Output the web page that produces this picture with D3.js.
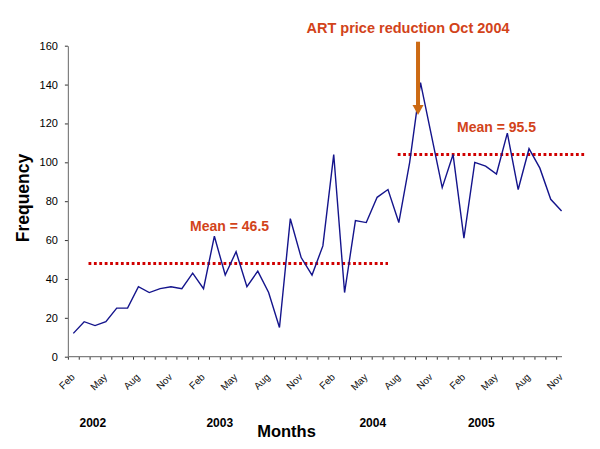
<!DOCTYPE html>
<html>
<head>
<meta charset="utf-8">
<script src="https://cdn.jsdelivr.net/npm/d3@7/dist/d3.min.js"></script>
<style>
  html, body { margin: 0; padding: 0; background: #fff; }
  svg { display: block; font-family: Arial, "Liberation Sans", Helvetica, sans-serif; }
</style>
</head>
<body>
<svg id="chart" width="600" height="449"></svg>
<script>
// ---- data ----
const months = [
  "Feb 2002","Mar 2002","Apr 2002","May 2002","Jun 2002","Jul 2002","Aug 2002","Sep 2002","Oct 2002","Nov 2002","Dec 2002",
  "Jan 2003","Feb 2003","Mar 2003","Apr 2003","May 2003","Jun 2003","Jul 2003","Aug 2003","Sep 2003","Oct 2003","Nov 2003","Dec 2003",
  "Jan 2004","Feb 2004","Mar 2004","Apr 2004","May 2004","Jun 2004","Jul 2004","Aug 2004","Sep 2004","Oct 2004","Nov 2004","Dec 2004",
  "Jan 2005","Feb 2005","Mar 2005","Apr 2005","May 2005","Jun 2005","Jul 2005","Aug 2005","Sep 2005","Oct 2005","Nov 2005"
];
const frequency = [
  12, 18, 16, 18, 25, 25, 36, 33, 35, 36, 35,
  43, 35, 62, 42, 54, 36, 44, 33, 15, 71, 51, 42,
  57, 104, 33, 70, 69, 82, 86, 69, 100, 141, 114, 87,
  104, 61, 100, 98, 94, 115, 86, 107, 97, 81, 75
];
const tickLabelMonths = ["Feb","May","Aug","Nov"];
const yearLabels = ["2002","2003","2004","2005"];
const yTicks = [0, 20, 40, 60, 80, 100, 120, 140, 160];
const meanLabels = ["Mean = 46.5", "Mean = 95.5"];
const meanLineLevels = [48, 104];
const annotationText = "ART price reduction Oct 2004";
const annotationMonth = "Oct 2004";

// ---- layout ----
const W = 600, H = 449;
const plotLeft = 67.9, step = 10.85, plotTop = 45.7, plotBottom = 356.7;
const axisEnd = 562;
const meanSpans = [[1.4, 29.0], [29.9, 47.3]];          // in month-index units
const meanLabelPos = [[14.4, 230.7], [39.0, 131.5]];     // [month-index, baseline y]
const yearLabelPos = [1.8, 13.5, 27.6, 37.6];            // month-index of year label centres

const svg = d3.select("#chart");

const x = d3.scaleLinear()
  .domain([-0.5, months.length - 0.5])
  .range([plotLeft, plotLeft + step * months.length]);
const y = d3.scaleLinear().domain([0, 160]).range([plotBottom, plotTop]);

// y axis
const yAxis = svg.append("g")
  .attr("transform", `translate(${plotLeft},0)`)
  .call(d3.axisLeft(y).tickValues(yTicks).tickSize(3).tickPadding(7).tickSizeOuter(0));
yAxis.select(".domain").attr("stroke", "#808080").attr("stroke-width", 1.2);
yAxis.selectAll(".tick line").attr("stroke", "#333");
yAxis.selectAll(".tick text").attr("font-size", "11px").attr("fill", "#000")
  .attr("font-family", "Arial, 'Liberation Sans', sans-serif");

// x axis (ticks at month boundaries)
const xAxis = svg.append("g")
  .attr("transform", `translate(0,${plotBottom})`)
  .call(d3.axisBottom(x)
    .tickValues(d3.range(months.length).map(i => i - 0.5))
    .tickSize(3).tickSizeOuter(0).tickFormat(""));
xAxis.select(".domain").remove();
xAxis.selectAll(".tick line").attr("stroke", "#333");
xAxis.append("line")
  .attr("x1", plotLeft).attr("x2", axisEnd)
  .attr("y1", 0).attr("y2", 0)
  .attr("stroke", "#808080").attr("stroke-width", 1.2);

// rotated month labels
const labelled = months.map((m, i) => ({ m: m.slice(0, 3), i }))
  .filter(d => tickLabelMonths.includes(d.m));
svg.append("g").selectAll("text")
  .data(labelled)
  .join("text")
  .attr("transform", d => `translate(${x(d.i) + 2},${plotBottom + 21}) rotate(-45)`)
  .attr("text-anchor", "end")
  .attr("font-size", "10px")
  .attr("fill", "#111")
  .text(d => d.m);

// year labels
svg.append("g").selectAll("text")
  .data(yearLabels)
  .join("text")
  .attr("x", (d, k) => x(yearLabelPos[k]))
  .attr("y", 427)
  .attr("text-anchor", "middle")
  .attr("font-size", "12px")
  .attr("font-weight", "bold")
  .text(d => d);

// axis titles
svg.append("text")
  .attr("x", 286.5).attr("y", 437)
  .attr("text-anchor", "middle")
  .attr("font-size", "16.5px").attr("font-weight", "bold")
  .text("Months");
svg.append("text")
  .attr("transform", "translate(28.5,198) rotate(-90)")
  .attr("text-anchor", "middle")
  .attr("font-size", "17.5px").attr("font-weight", "bold")
  .text("Frequency");

// mean lines
svg.append("g").selectAll("line")
  .data(meanLineLevels)
  .join("line")
  .attr("x1", (d, k) => x(meanSpans[k][0]))
  .attr("x2", (d, k) => x(meanSpans[k][1]))
  .attr("y1", d => y(d)).attr("y2", d => y(d))
  .attr("stroke", "#d00000")
  .attr("stroke-width", 3)
  .attr("stroke-dasharray", "2.8,2.6");

// data line
const line = d3.line()
  .x((d, i) => x(i))
  .y(d => y(d));
svg.append("path")
  .datum(frequency)
  .attr("d", line)
  .attr("fill", "none")
  .attr("stroke", "#14148c")
  .attr("stroke-width", 1.4)
  .attr("stroke-linejoin", "miter");

// mean labels
svg.append("g").selectAll("text")
  .data(meanLabels)
  .join("text")
  .attr("x", (d, k) => x(meanLabelPos[k][0]))
  .attr("y", (d, k) => meanLabelPos[k][1])
  .attr("text-anchor", "middle")
  .attr("font-size", "14px").attr("font-weight", "bold")
  .attr("fill", "#d2431a")
  .text(d => d);

// annotation arrow + text
const ai = months.indexOf(annotationMonth);
const ax = x(ai) - 2.5;
svg.append("rect")
  .attr("x", ax - 2).attr("y", 41.7)
  .attr("width", 4).attr("height", 63.5)
  .attr("fill", "#cc6a14");
svg.append("path")
  .attr("d", `M${ax - 5.5},105 L${ax + 5.5},105 L${ax},115 Z`)
  .attr("fill", "#cc6a14");
svg.append("text")
  .attr("x", 408).attr("y", 32.5)
  .attr("text-anchor", "middle")
  .attr("font-size", "14.5px").attr("font-weight", "bold")
  .attr("fill", "#d2431a")
  .text(annotationText);
</script>
</body>
</html>
